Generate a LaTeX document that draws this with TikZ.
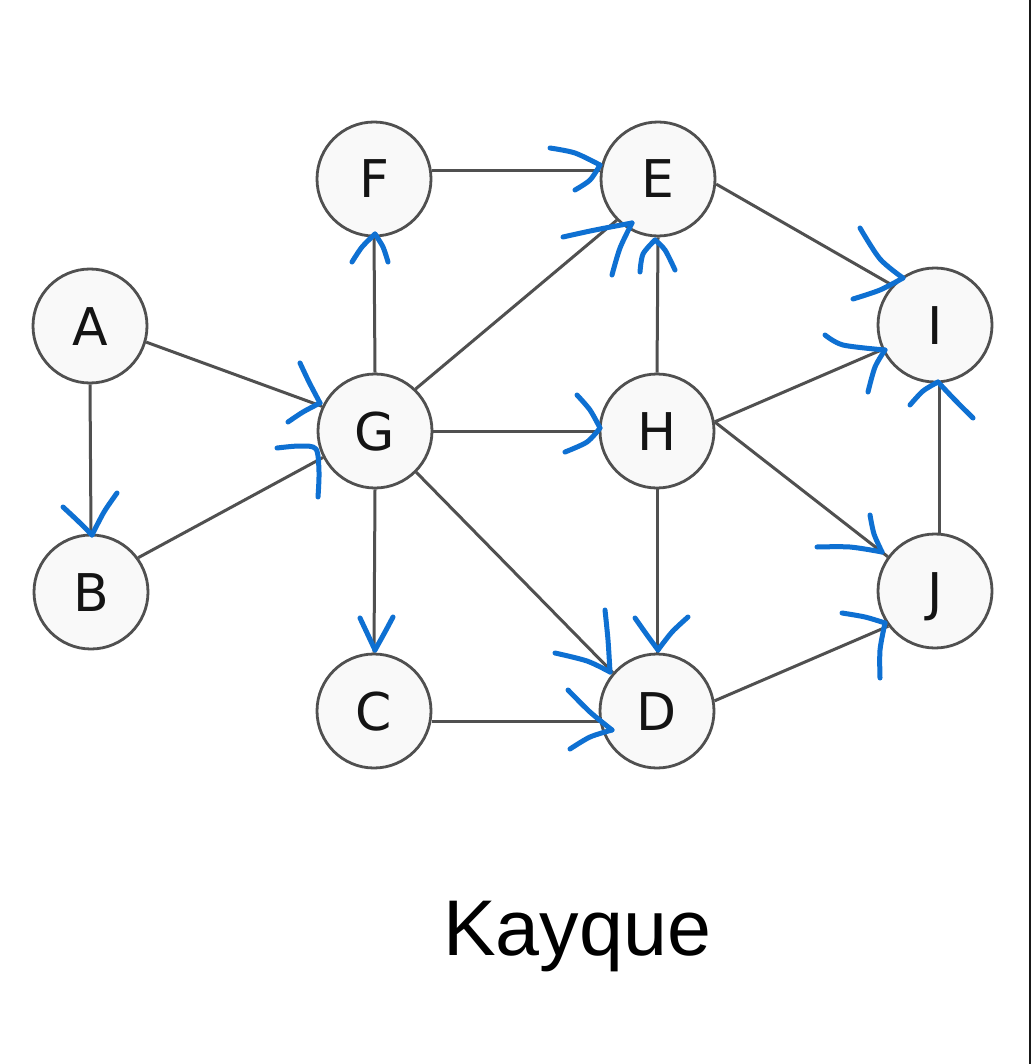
\documentclass[tikz,border=0pt]{standalone}
\usepackage{fontspec}
\newfontfamily\nodefont{DejaVu Sans}
\newfontfamily\capfont{Liberation Sans}
\definecolor{edgegray}{HTML}{505050}
\definecolor{nodefill}{HTML}{F9F9F9}
\definecolor{penblue}{RGB}{14,112,210}
\tikzset{
  vertex/.style={circle, draw=edgegray, line width=2.8pt, fill=nodefill, minimum size=114pt, inner sep=0pt,
    font=\nodefont\fontsize{52}{60}\selectfont, text height=38pt, text depth=0pt, text=black!92},
  edge/.style={draw=edgegray, line width=3pt},
  pen/.style={draw=penblue, line width=5pt, line cap=round, line join=round}
}
\begin{document}
\begin{tikzpicture}[x=1pt, y=-1pt]
\fill[white] (0,0) rectangle (1031,1064);
\useasboundingbox (0,0) rectangle (1031,1064);
\fill[black!90] (1029,0) rectangle (1031,1064);

\node[vertex] (F) at (374,179) {F};
\node[vertex] (E) at (658,179) {E};
\node[vertex] (A) at (90,326) {A};
\node[vertex] (G) at (375,431) {G};
\node[vertex] (H) at (657,431) {H};
\node[vertex] (I) at (935,325) {I};
\node[vertex] (B) at (91,592) {B};
\node[vertex] (J) at (935,591) {J};
\node[vertex] (C) at (374,711) {C};
\node[vertex] (D) at (657,711) {D};

\draw[edge] (F.8) -- (E.172);
\draw[edge] (A.-16) -- (G.155);
\draw[edge] (A.south) -- (B.north);
\draw[edge] (B.36) -- (G.207);
\draw[edge] (G.north) -- (F.south);
\draw[edge] (G.46) -- (E.225);
\draw[edge] (G.east) -- (H.west);
\draw[edge] (G.south) -- (C.north);
\draw[edge] (G.-45) -- (D.139);
\draw[edge] (H.north) -- (E.south);
\draw[edge] (H.9) -- (I.205);
\draw[edge] (H.9) -- (J.144);
\draw[edge] (H.south) -- (D.north);
\draw[edge] (E.-5) -- (I.137);
\draw[edge] (J.86) -- (I.274);
\draw[edge] (C.-10) -- (D.190);
\draw[edge] (D.10) -- (J.217);

% hand-drawn arrowheads
% F -> E
\draw[pen] plot[smooth] coordinates {(550,148) (575,153) (600,165)};
\draw[pen] plot[smooth] coordinates {(600,165) (590,180) (575,190)};
% G -> E
\draw[pen] plot[smooth] coordinates {(563,237) (595,230) (632,223)};
\draw[pen] plot[smooth] coordinates {(632,223) (620,248) (612,275)};
% H -> E
\draw[pen] plot[smooth] coordinates {(655,240) (643,254) (640,272)};
\draw[pen] plot[smooth] coordinates {(655,240) (665,250) (675,270)};
% G -> F
\draw[pen] plot[smooth] coordinates {(375,234) (362,247) (352,262)};
\draw[pen] plot[smooth] coordinates {(375,234) (383,247) (388,262)};
% A -> G
\draw[pen] plot[smooth] coordinates {(300,363) (309,382) (320,403)};
\draw[pen] plot[smooth] coordinates {(320,403) (303,412) (288,422)};
% B -> G
\draw[pen] plot[smooth] coordinates {(277,448) (300,446) (316,449) (319,472) (318,497)};
% G -> H
\draw[pen] plot[smooth] coordinates {(577,395) (590,410) (600,428)};
\draw[pen] plot[smooth] coordinates {(600,428) (587,442) (565,452)};
% E -> I
\draw[pen] plot[smooth] coordinates {(860,228) (880,259) (903,278)};
\draw[pen] plot[smooth] coordinates {(903,278) (880,290) (853,299)};
% H -> I
\draw[pen] plot[smooth] coordinates {(825,335) (843,345) (885,350)};
\draw[pen] plot[smooth] coordinates {(885,350) (875,367) (868,392)};
% J -> I
\draw[pen] plot[smooth] coordinates {(938,382) (923,391) (910,405)};
\draw[pen] plot[smooth] coordinates {(938,382) (954,399) (973,418)};
% H -> J
\draw[pen] plot[smooth] coordinates {(817,547) (850,547) (882,552)};
\draw[pen] plot[smooth] coordinates {(882,552) (874,534) (870,515)};
% D -> J
\draw[pen] plot[smooth] coordinates {(842,613) (865,617) (885,623)};
\draw[pen] plot[smooth] coordinates {(885,623) (880,650) (880,678)};
% G -> D
\draw[pen] plot[smooth] coordinates {(605,610) (608,640) (610,672)};
\draw[pen] plot[smooth] coordinates {(555,653) (587,661) (610,672)};
% H -> D
\draw[pen] plot[smooth] coordinates {(635,618) (647,635) (658,650)};
\draw[pen] plot[smooth] coordinates {(658,650) (672,632) (688,617)};
% C -> D
\draw[pen] plot[smooth] coordinates {(568,690) (590,712) (612,730)};
\draw[pen] plot[smooth] coordinates {(612,730) (590,737) (570,749)};
% A -> B
\draw[pen] plot[smooth] coordinates {(63,507) (78,521) (92,535)};
\draw[pen] plot[smooth] coordinates {(92,535) (104,512) (117,493)};
% G -> C
\draw[pen] plot[smooth] coordinates {(360,618) (368,635) (375,650)};
\draw[pen] plot[smooth] coordinates {(375,650) (385,632) (393,617)};

\node[font=\capfont\fontsize{79}{90}\selectfont, anchor=base, inner sep=0pt] (title) at (577,955) {Kayque};
\end{tikzpicture}
\end{document}
